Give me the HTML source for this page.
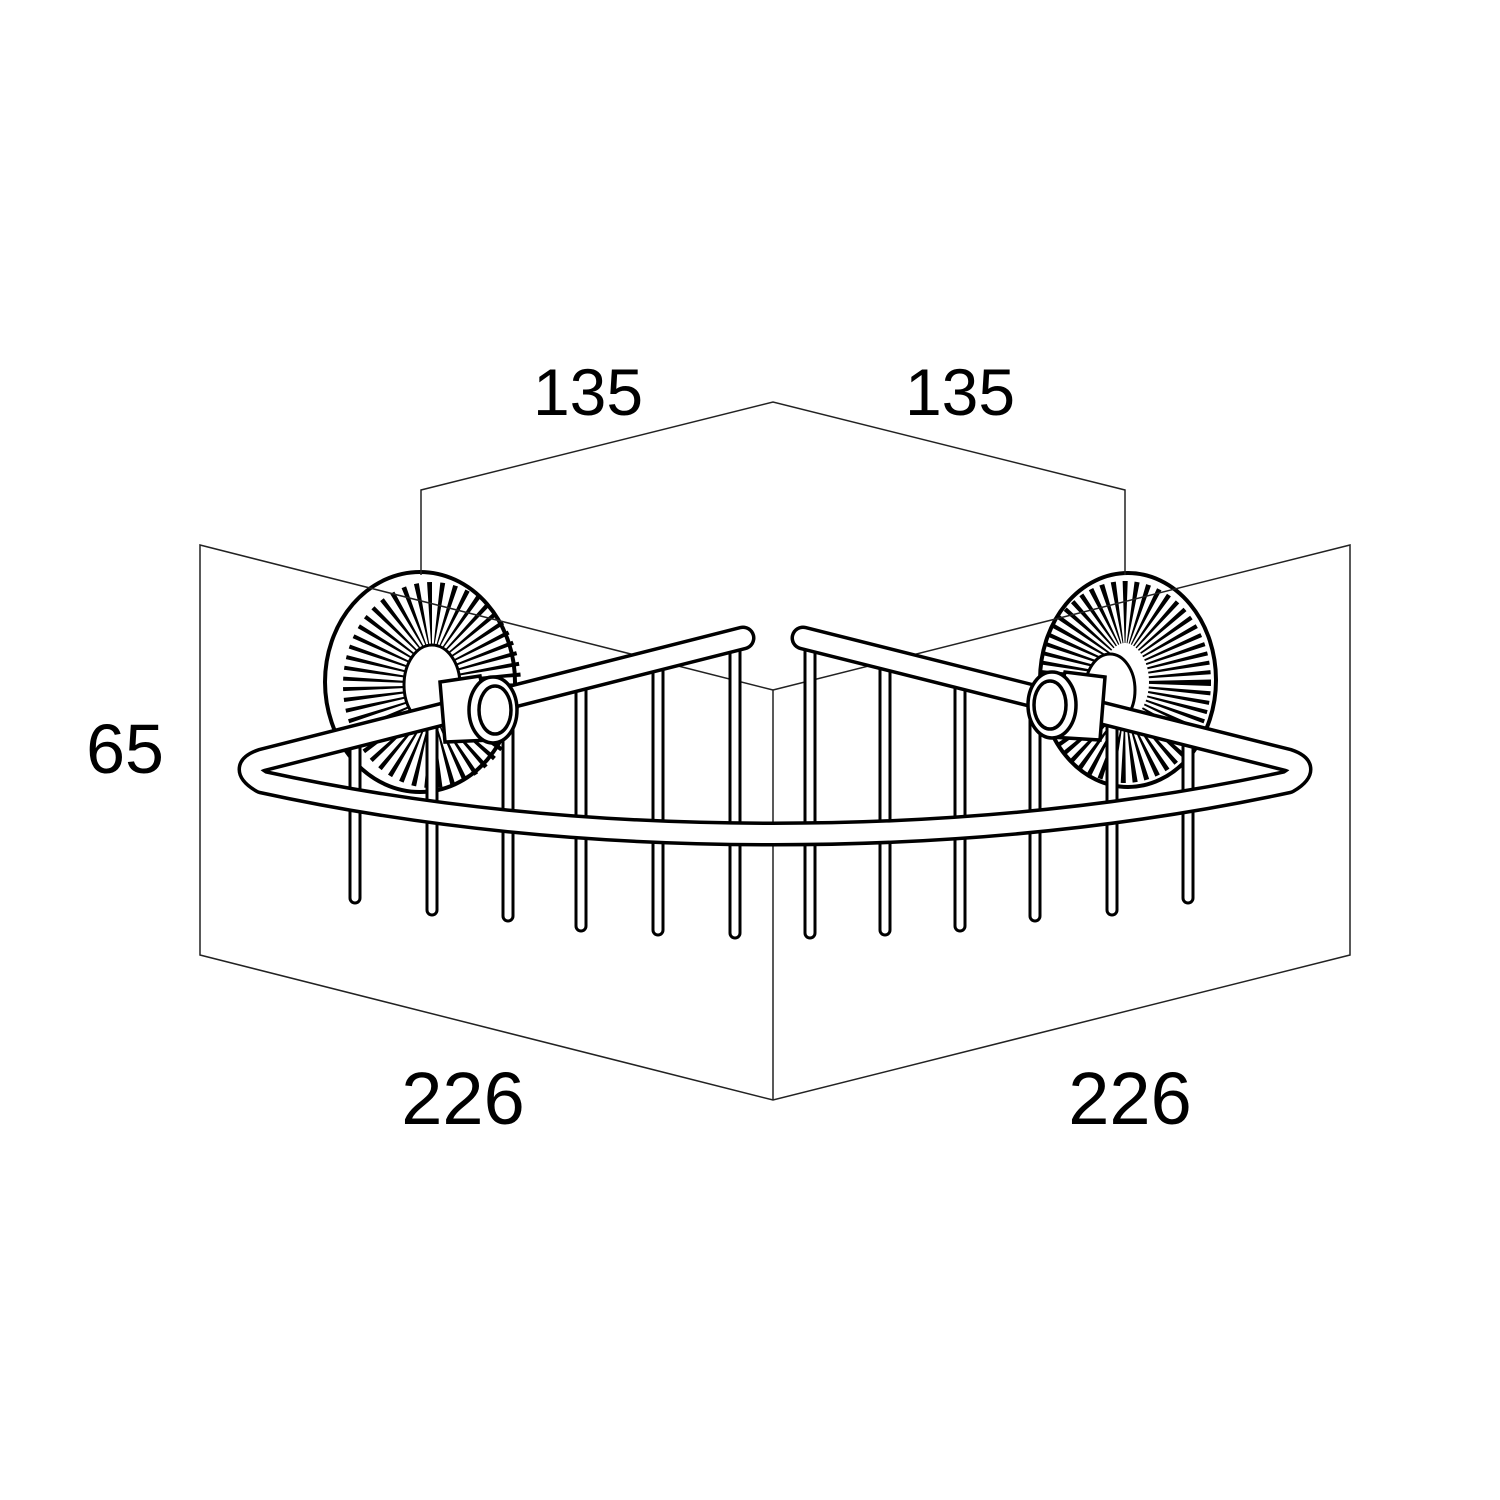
<!DOCTYPE html>
<html><head><style>html,body{margin:0;padding:0;background:#fff}svg{display:block}</style></head><body>
<svg width="1500" height="1500" viewBox="0 0 1500 1500" xmlns="http://www.w3.org/2000/svg">
<rect width="1500" height="1500" fill="#fff"/>
<!-- rosettes -->
<g>
<ellipse cx="420" cy="682" rx="95" ry="110" fill="#fff" stroke="#000" stroke-width="4"/>
<ellipse cx="432" cy="685" rx="58" ry="72" fill="none" stroke="#000" stroke-width="62" stroke-dasharray="3 5"/>
<ellipse cx="432" cy="685" rx="28" ry="40" fill="#fff" stroke="#000" stroke-width="3"/>
<ellipse cx="1128" cy="680" rx="88" ry="107" fill="#fff" stroke="#000" stroke-width="4"/>
<ellipse cx="1125" cy="682" rx="55" ry="70" fill="none" stroke="#000" stroke-width="62" stroke-dasharray="3 4"/>
<ellipse cx="1110" cy="690" rx="25" ry="36" fill="#fff" stroke="#000" stroke-width="3"/>
</g>
<g stroke="#222" stroke-width="1.5" fill="none">
<polyline points="421,575 421,490 773,402 1125,490 1125,575"/>
<polyline points="773,690 200,545 200,955 773,1100 1350,955 1350,545 773,690"/>
<line x1="773" y1="690" x2="773" y2="1100"/>
</g>
<!-- wires -->
<g stroke-linecap="round">
<g stroke="#000" stroke-width="13" fill="none">
<path d="M355 738V898M432 718V910M508 700V916M581 682V926M658 663V930M735 643V933M810 643V933M885 663V930M960 682V926M1035 700V916M1112 718V910M1188 738V898"/>
</g>
<g stroke="#fff" stroke-width="7" fill="none">
<path d="M355 738V898M432 718V910M508 700V916M581 682V926M658 663V930M735 643V933M810 643V933M885 663V930M960 682V926M1035 700V916M1112 718V910M1188 738V898"/>
</g>
</g>
<!-- rails -->
<g fill="none" stroke-linecap="round" stroke-linejoin="round">
<path d="M743,638 L262,760 Q238,768 262,782 Q500,834 773,834 Q1046,834 1288,782 Q1312,768 1288,760 L803,638" stroke="#000" stroke-width="25"/>
<path d="M743,638 L262,760 Q238,768 262,782 Q500,834 773,834 Q1046,834 1288,782 Q1312,768 1288,760 L803,638" stroke="#fff" stroke-width="18"/>
</g>
<!-- hubs -->
<g stroke="#000" stroke-width="3.5" fill="#fff">
<path d="M440,682 L480,676 L492,740 L445,742 Z"/>
<ellipse cx="493" cy="710" rx="24" ry="33"/>
<ellipse cx="495" cy="710" rx="16" ry="24"/>
<path d="M1105,677 L1065,672 L1050,737 L1100,740 Z"/>
<ellipse cx="1052" cy="705" rx="24" ry="33"/>
<ellipse cx="1050" cy="705" rx="16" ry="24"/>
</g>
<g font-family="Liberation Sans, sans-serif" fill="#000" text-anchor="middle">
<text x="588" y="415" font-size="66">135</text>
<text x="960" y="415" font-size="66">135</text>
<text x="125" y="773" font-size="70">65</text>
<text x="463" y="1124" font-size="74">226</text>
<text x="1130" y="1124" font-size="74">226</text>
</g>
</svg>
</body></html>
